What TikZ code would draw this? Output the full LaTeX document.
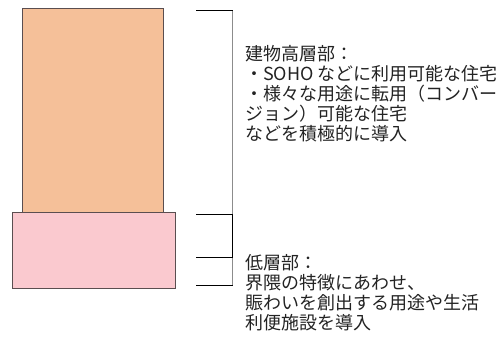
\documentclass[tikz,border=0pt]{standalone}
\usepackage{fontspec}
\setmainfont{Noto Sans CJK JP}
\begin{document}
\begin{tikzpicture}[x=1pt,y=1pt,
  blockstyle/.style={draw={rgb,255:red,90;green,78;blue,80}, line width=1pt},
  brline/.style={draw=black, line width=0.9pt},
  brvert/.style={draw={rgb,255:red,140;green,140;blue,140}, line width=0.9pt},
  txt/.style={anchor=north west, inner sep=0pt, align=left, font=\fontsize{18}{20}\selectfont, text={rgb,255:red,35;green,35;blue,35}}]
\useasboundingbox (0,0) rectangle (503,341);
\definecolor{peach}{RGB}{245,192,153}
\definecolor{pinkish}{RGB}{250,201,207}
% blocks
\node[blockstyle, fill=peach, minimum width=141pt, minimum height=203.2pt, inner sep=0pt, anchor=south west] (upper) at (22.3,128.3) {};
\node[blockstyle, fill=pinkish, minimum width=163pt, minimum height=76.6pt, inner sep=0pt, anchor=south west] (lower) at (12.3,51.7) {};
% bracket coordinates
\coordinate (t1) at (196,330.3);
\coordinate (t2) at (232.5,330.3);
\coordinate (b1) at (196,56);
\coordinate (b2) at (232.5,56);
\coordinate (m1) at (196,126.7);
\coordinate (m2) at (232.5,126.7);
\coordinate (n1) at (196,83.7);
\coordinate (n2) at (232.5,83.7);
\draw[brvert] (t2) -- (b2);
\draw[brline] (m2) -- (n2);
\draw[brline] (t1) -- (t2);
\draw[brline] (m1) -- (m2);
\draw[brline] (n1) -- (n2);
\draw[brline] (b1) -- (b2);
% texts
\node[txt] (uppertext) at (245,295.5) {建物高層部：\\・SOHO などに利用可能な住宅\\・様々な用途に転用（コンバー\\ジョン）可能な住宅\\などを積極的に導入};
\node[txt] (lowertext) at (245,86.5) {低層部：\\界隈の特徴にあわせ、\\賑わいを創出する用途や生活\\利便施設を導入};
\end{tikzpicture}
\end{document}
